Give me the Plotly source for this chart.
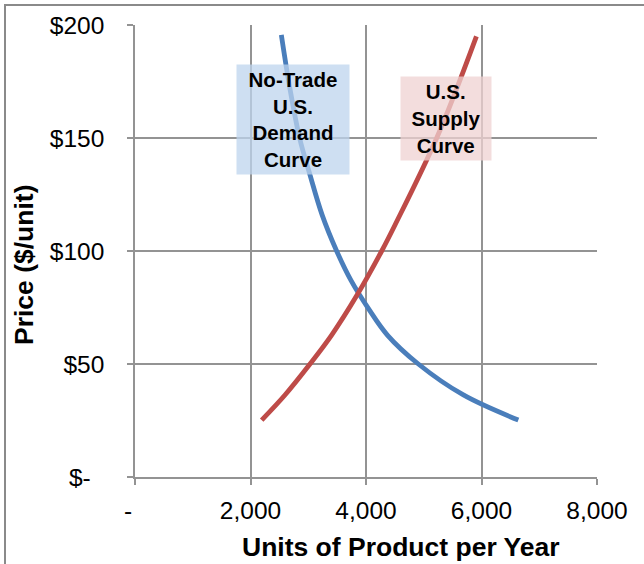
import plotly.graph_objects as go

# Demand curve (quantity, price)
demand_qty = [2534, 2677, 2850, 3022, 3240, 3492, 3740, 4040, 4370, 4906, 5686, 6638]
demand_price = [195.6, 172.7, 150, 134.4, 116, 100, 87, 74.6, 62.8, 50, 36.3, 25.2]

# Supply curve (quantity, price)
supply_qty = [2194, 2597, 3030, 3405, 3845, 4272, 4502, 5224, 5912]
supply_price = [25.2, 36.3, 50, 62.8, 80.5, 100, 111.5, 150, 195]

x_tickvals = [0, 2000, 4000, 6000, 8000]
x_ticktext = ["-  ", "2,000", "4,000", "6,000", "8,000"]
y_tickvals = [0, 50, 100, 150, 200]
y_ticktext = ["$-  ", "$50", "$100", "$150", "$200"]

x_title = "Units of Product per Year"
y_title = "Price ($/unit)"
demand_label = "No-Trade<br>U.S.<br>Demand<br>Curve"
supply_label = "U.S.<br>Supply<br>Curve"

FONT = "Arial, 'Liberation Sans', sans-serif"
GRID = "#939393"

fig = go.Figure()
fig.add_trace(go.Scatter(x=demand_qty, y=demand_price, mode="lines",
                         line=dict(color="#4A7EBB", width=4.8, shape="spline"),
                         showlegend=False, hoverinfo="skip"))
fig.add_trace(go.Scatter(x=supply_qty, y=supply_price, mode="lines",
                         line=dict(color="#BE4B48", width=4.8, shape="spline"),
                         showlegend=False, hoverinfo="skip"))

fig.add_annotation(x=2736, y=158.2, xref="x", yref="y", text=demand_label,
                   showarrow=False, width=110, height=107,
                   bgcolor="rgba(190,212,238,0.75)",
                   font=dict(family=FONT, size=20.5, color="black", weight="bold"))
fig.add_annotation(x=5385, y=158.6, xref="x", yref="y", text=supply_label,
                   showarrow=False, width=88, height=81,
                   bgcolor="rgba(239,210,209,0.75)",
                   font=dict(family=FONT, size=20.5, color="black", weight="bold"))

# axis titles (placed as in the reference)
fig.add_annotation(x=(401 - 135) / 462, y=(477 - 547) / 452, xref="paper", yref="paper",
                   text="<b>" + x_title + "</b>", showarrow=False,
                   xanchor="center", yanchor="middle",
                   font=dict(family=FONT, size=26.5, color="black"))
fig.add_annotation(x=(24 - 135) / 462, y=(477 - 265) / 452, xref="paper", yref="paper",
                   text="<b>" + y_title + "</b>", showarrow=False, textangle=-90,
                   xanchor="center", yanchor="middle",
                   font=dict(family=FONT, size=26.5, color="black"))

# outer chart border
fig.add_shape(type="rect", xref="paper", yref="paper",
              x0=(5 - 135) / 462, x1=1.3, y0=-0.4, y1=(477 - 5) / 452,
              line=dict(color="#8a8a8a", width=2), layer="below")

fig.update_layout(
    width=644, height=564,
    margin=dict(l=135, r=47, t=25, b=87, autoexpand=False),
    paper_bgcolor="white", plot_bgcolor="white",
    font=dict(family=FONT, color="black"),
    xaxis=dict(range=[0, 8000], tickvals=x_tickvals, ticktext=x_ticktext,
               showgrid=True, gridcolor=GRID, gridwidth=1.5,
               showline=True, linecolor=GRID, linewidth=1.5,
               ticks="outside", ticklen=6, tickcolor=GRID, tickwidth=1.5,
               tickfont=dict(size=24.5), zeroline=False, ticklabelstandoff=5,
               automargin=False),
    yaxis=dict(range=[0, 200], tickvals=y_tickvals, ticktext=y_ticktext,
               showgrid=True, gridcolor=GRID, gridwidth=1.5,
               showline=True, linecolor=GRID, linewidth=1.5,
               ticks="outside", ticklen=6, tickcolor=GRID, tickwidth=1.5,
               tickfont=dict(size=24.5), zeroline=False, ticklabelstandoff=18,
               automargin=False),
)

fig.write_html("out.html", config={"displayModeBar": False},
               post_script="document.body.style.margin='0px';")
